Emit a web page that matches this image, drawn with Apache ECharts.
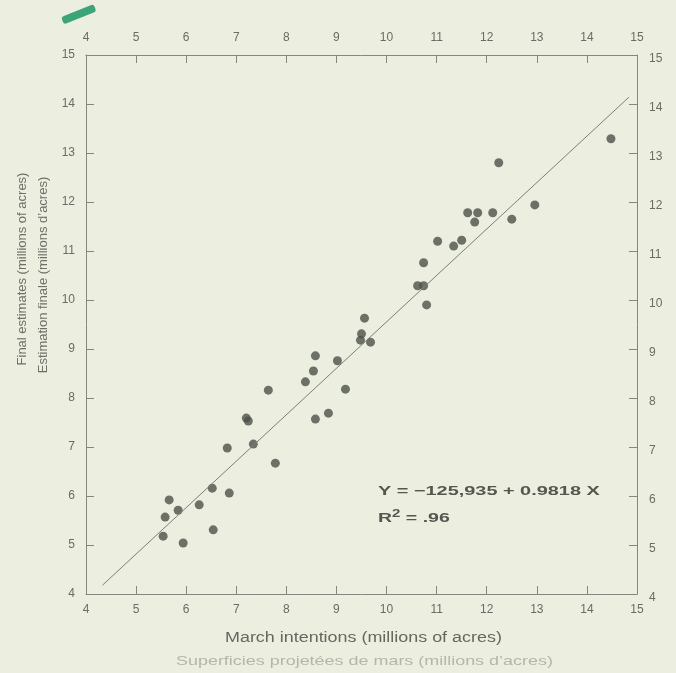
<!DOCTYPE html>
<html><head><meta charset="utf-8">
<script src="https://cdn.jsdelivr.net/npm/echarts@6/dist/echarts.min.js"></script>
<style>html,body{margin:0;padding:0;background:#eceedf;}#c{width:676px;height:673px;}</style>
</head><body><div id="c"></div>
<script>
const marchIntentions = [5.54,5.58,5.66,5.84,5.94,6.26,6.52,6.54,6.86,6.82,7.2,7.24,7.34,7.64,7.78,8.38,8.54,8.58,8.58,8.84,9.02,9.18,9.48,9.5,9.56,9.68,10.62,10.74,10.74,10.8,11.02,11.34,11.5,11.62,11.76,11.82,12.12,12.24,12.5,12.96,14.48];
const finalEstimates = [5.18,5.57,5.92,5.71,5.04,5.82,6.16,5.31,6.06,6.98,7.59,7.53,7.06,8.16,6.67,8.33,8.55,8.86,7.57,7.69,8.76,8.18,9.18,9.31,9.63,9.14,10.29,10.29,10.76,9.9,11.2,11.1,11.22,11.78,11.59,11.78,11.78,12.8,11.65,11.94,13.29];
const fitX = [4.33,14.84];
const fitY = [4.18,14.14];
const tickValues = [4,5,6,7,8,9,10,11,12,13,14,15];
const equationText = ['Y = \u2212125,935 + 0.9818 X', 'R{s|2} = .96'];

const pts = marchIntentions.map((x,i)=>[x,finalEstimates[i]]);
const fitLine = fitX.map((x,i)=>[x,fitY[i]]);
const FAM = 'Liberation Sans, Arial, sans-serif';
const axisCol = '#85877f';
const txtCol = '#6a6c66';
function xAx(pos){
  return {type:'value',position:pos,min:tickValues[0],max:tickValues[tickValues.length-1],interval:1,
    axisLine:{show:true,lineStyle:{color:axisCol,width:1}},
    axisTick:{show:true,inside:true,length:8,lineStyle:{color:axisCol}},
    splitLine:{show:false},
    axisLabel:{color:txtCol,fontFamily:FAM,fontSize:12,margin:pos==='top'?11:10}};
}
function yAx(pos){
  const l = {color:txtCol,fontFamily:FAM,fontSize:12,margin:pos==='right'?12:11};
  if(pos==='right'){ l.verticalAlign='top'; l.lineHeight=8; }
  return {type:'value',position:pos,min:tickValues[0],max:tickValues[tickValues.length-1],interval:1,
    axisLine:{show:true,lineStyle:{color:axisCol,width:1}},
    axisTick:{show:true,inside:true,length:8,lineStyle:{color:axisCol}},
    splitLine:{show:false},
    axisLabel:l};
}
const chart = echarts.init(document.getElementById('c'));
chart.setOption({
  backgroundColor:'#eceedf',
  animation:false,
  grid:{left:86,right:39,top:55,bottom:79},
  xAxis:[xAx('bottom'),xAx('top')],
  yAxis:[yAx('left'),yAx('right')],
  series:[
    {type:'line',data:fitLine,xAxisIndex:0,yAxisIndex:0,symbol:'none',lineStyle:{color:'#7d8078',width:1},silent:true},
    {type:'scatter',data:pts,xAxisIndex:0,yAxisIndex:0,symbolSize:9,itemStyle:{color:'#4c5148'}}
  ],
  graphic:[
    {type:'text',x:378,y:491,scaleX:1.53,style:{text:equationText[0],fontFamily:FAM,fontWeight:'bold',fontSize:13,fill:'#55574f',verticalAlign:'middle'}},
    {type:'text',x:378,y:518,scaleX:1.5,style:{text:equationText[1],fontFamily:FAM,fontWeight:'bold',fontSize:13,fill:'#55574f',verticalAlign:'middle',
      rich:{s:{fontFamily:FAM,fontWeight:'bold',fontSize:10,fill:'#55574f',verticalAlign:'bottom',padding:[0,0,8,0]}}}},
    {type:'text',x:225,y:638,scaleX:1.28,style:{text:'March intentions (millions of acres)',fontFamily:FAM,fontSize:14,fill:'#66685f',verticalAlign:'middle'}},
    {type:'text',x:176,y:661,scaleX:1.38,style:{text:'Superficies projet\u00e9es de mars (millions d\u2019acres)',fontFamily:FAM,fontSize:13,fill:'#b4b6ab',verticalAlign:'middle'}},
    {type:'text',x:22,y:269,rotation:Math.PI/2,style:{text:'Final estimates (millions of acres)',fontFamily:FAM,fontSize:13,fill:'#6e7068',align:'center',verticalAlign:'middle'}},
    {type:'text',x:43,y:275,rotation:Math.PI/2,style:{text:'Estimation finale (millions d\u2019acres)',fontFamily:FAM,fontSize:13,fill:'#6e7068',align:'center',verticalAlign:'middle'}},
    {type:'rect',x:61,y:17,rotation:0.38,shape:{width:35,height:8,r:3},style:{fill:'#3aa57a'}}
  ]
});
</script></body></html>
